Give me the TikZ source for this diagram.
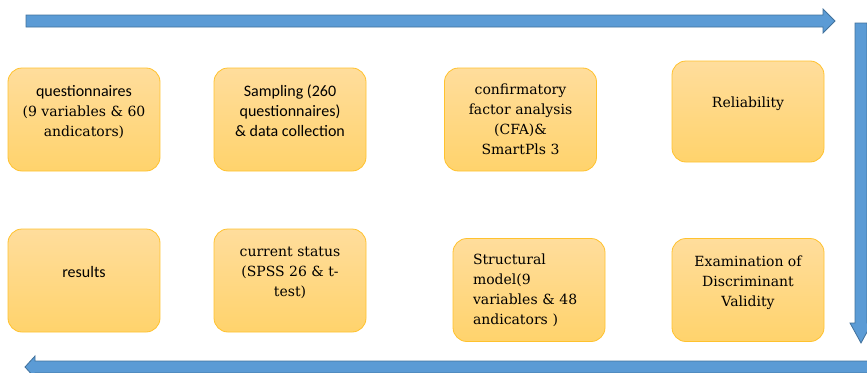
\documentclass[tikz,border=0pt]{standalone}
\usepackage{fontspec}
\newfontfamily\timesfont{DejaVu Serif}
\newfontfamily\calfont{Carlito}
\newcommand{\calbig}{\calfont\fontsize{16}{20}\selectfont}
\usepackage{tikz}
\usetikzlibrary{calc}

\definecolor{boxtop}{HTML}{FFDD9C}
\definecolor{boxbot}{HTML}{FFD36C}
\definecolor{boxline}{HTML}{FFC22E}
\definecolor{arrowfill}{HTML}{5B9BD5}
\definecolor{arrowline}{HTML}{41719C}

\begin{document}
\begin{tikzpicture}[x=1pt,y=-1pt,
  stage/.style={draw=boxline,line width=.8pt,rounded corners=14pt,
    top color=boxtop,bottom color=boxbot,minimum width=152pt,minimum height=103pt,
    align=center,font=\timesfont\fontsize{14}{20}\selectfont},
  lifted/.style={execute at end node={\rule[-18pt]{0pt}{18pt}}},
  blockarrow/.style={draw=arrowline,fill=arrowfill,line width=.8pt,line join=miter}]
  \useasboundingbox (0,0) rectangle (867,372);
  \clip (0,0) rectangle (867,372);
  \draw[blockarrow] (26,15) -- (823,15) -- (823,9) -- (835,21) -- (823,33) -- (823,27) -- (26,27) -- cycle;
  \draw[blockarrow] (855,23) -- (867,23) -- (867,323) -- (872,323) -- (861,343) -- (850,323) -- (855,323) -- cycle;
  \draw[blockarrow] (880,361) -- (35,361) -- (35,356) -- (25,367) -- (35,378) -- (35,373) -- (880,373) -- cycle;
  \node[stage,lifted] (quest) at (84,119.5) {{\calbig questionnaires}\\(9 variables \& 60\\andicators)};
  \node[stage,lifted,font=\calbig] (sampl) at (290,119.5) {Sampling (260\\questionnaires)\\\& data collection};
  \node[stage] (cfa) at (520.5,119.5) {confirmatory\\factor analysis\\(CFA)\&\\SmartPls 3};
  \node[stage,lifted,minimum height=101pt] (relia) at (748,111.5) {Reliability};
  \node[stage,lifted,font=\calbig] (resul) at (84,280.5) {results};
  \node[stage,lifted] (curr) at (290,280.5) {current status\\(SPSS 26 \& t-\\test)};
  \node[stage,text width=112pt,align=left] (struc) at (529,290) {Structural\\model(9\\variables \& 48\\andicators )};
  \node[stage,lifted] (discr) at (748,290) {Examination of\\Discriminant\\Validity};
\end{tikzpicture}
\end{document}
